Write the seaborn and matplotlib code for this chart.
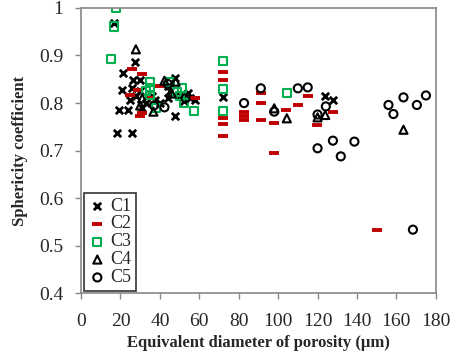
import matplotlib
matplotlib.use("Agg")
import matplotlib.pyplot as plt
import seaborn as sns
import pandas as pd

c1_x = [16.9, 27.4, 21.5, 26.2, 30, 20.6, 25.7, 24.9, 19.3, 24, 18.4, 26, 30, 31, 37.6, 44.3, 47.7, 45, 44, 47.7, 54.5, 55.3, 57.9, 72.2, 123.9, 127.8, 36, 33, 28, 40, 50, 52]
c1_y = [0.969, 0.887, 0.864, 0.849, 0.849, 0.828, 0.831, 0.807, 0.786, 0.786, 0.738, 0.737, 0.826, 0.79, 0.807, 0.835, 0.852, 0.826, 0.81, 0.772, 0.822, 0.81, 0.807, 0.812, 0.814, 0.807, 0.815, 0.80, 0.815, 0.80, 0.815, 0.805]

c2_x = [25.7, 30.8, 29.1, 24.9, 39.7, 30.8, 30, 35, 72.2, 72.2, 72.2, 72.2, 72.2, 82.7, 82.7, 82.7, 91.2, 91.2, 91.2, 98, 98, 104, 110.3, 115, 119.6, 127.8, 150, 58]
c2_y = [0.871, 0.861, 0.828, 0.818, 0.836, 0.779, 0.772, 0.81, 0.866, 0.849, 0.768, 0.756, 0.731, 0.782, 0.773, 0.765, 0.821, 0.80, 0.765, 0.758, 0.695, 0.786, 0.796, 0.814, 0.754, 0.782, 0.534, 0.81]

c3_x = [17.8, 16.9, 15.2, 72.2, 72.2, 72.2, 35, 35, 35, 33, 45.2, 48.6, 51.1, 52, 57.4, 50, 104.4, 38]
c3_y = [1.0, 0.961, 0.892, 0.889, 0.829, 0.784, 0.845, 0.832, 0.817, 0.825, 0.845, 0.824, 0.831, 0.80, 0.784, 0.815, 0.821, 0.79]

c4_x = [27.8, 36.7, 31, 42.3, 30, 48, 98, 104.4, 123.9, 120, 163.6, 46]
c4_y = [0.913, 0.782, 0.81, 0.847, 0.795, 0.845, 0.789, 0.768, 0.775, 0.77, 0.744, 0.82]

c5_x = [42.3, 37, 44, 53, 82.7, 91.2, 98, 110, 115, 120, 120, 124.2, 127.8, 131.8, 138.7, 156, 158.5, 163.6, 170.4, 175, 168.4]
c5_y = [0.791, 0.795, 0.84, 0.81, 0.80, 0.831, 0.782, 0.831, 0.833, 0.776, 0.705, 0.793, 0.721, 0.688, 0.719, 0.796, 0.777, 0.812, 0.796, 0.816, 0.534]

x_ticks = [0, 20, 40, 60, 80, 100, 120, 140, 160, 180]
y_ticks = [0.4, 0.5, 0.6, 0.7, 0.8, 0.9, 1.0]
y_tick_labels = ["0.4", "0.5", "0.6", "0.7", "0.8", "0.9", "1"]

sns.set_theme(style="white")
plt.rcParams['font.family'] = 'serif'
plt.rcParams['font.serif'] = ['Liberation Serif', 'Times New Roman', 'DejaVu Serif']

fig = plt.figure(figsize=(4.53, 3.6), dpi=100)
ax = fig.add_axes([0.179, 0.185, 0.783, 0.793])

groups = [
    ("C1", c1_x, c1_y, dict(marker="x", color="black", s=28, linewidth=2.0)),
    ("C2", c2_x, c2_y, dict(marker="_", color="#C00000", s=55, linewidth=2.8)),
    ("C3", c3_x, c3_y, dict(marker="s", facecolor="none", edgecolor="#00B050", s=34, linewidth=1.5)),
    ("C4", c4_x, c4_y, dict(marker="^", facecolor="none", edgecolor="black", s=34, linewidth=1.5)),
    ("C5", c5_x, c5_y, dict(marker="o", facecolor="none", edgecolor="black", s=34, linewidth=1.5)),
]

for name, xs, ys, kw in groups:
    df = pd.DataFrame({"x": xs, "y": ys})
    sns.scatterplot(data=df, x="x", y="y", ax=ax, label=name, **kw)

ax.set_xlim(0, 180)
ax.set_ylim(0.4, 1.0)
ax.set_xticks(x_ticks)
ax.set_yticks(y_ticks)
ax.set_yticklabels(y_tick_labels)
ax.tick_params(axis="both", direction="out", length=4, width=1, color="#888888",
               labelsize=14, bottom=True, left=True)
ax.tick_params(axis="x", pad=10)
ax.tick_params(axis="y", pad=9)
for sp in ax.spines.values():
    sp.set_color("#888888")
    sp.set_linewidth(1.2)

ax.set_xlabel("Equivalent diameter of porosity (µm)", fontsize=12, fontweight="bold", labelpad=4)
ax.set_ylabel("Sphericity coefficient", fontsize=12, fontweight="bold", labelpad=8)

leg = ax.legend(loc="lower left", frameon=True, fancybox=False, edgecolor="black",
                fontsize=13, handletextpad=0.2, handlelength=1.0, borderpad=0.25,
                labelspacing=0.05, borderaxespad=0.15)
leg.get_frame().set_linewidth(1.2)

fig.savefig("out.png", dpi=100)
